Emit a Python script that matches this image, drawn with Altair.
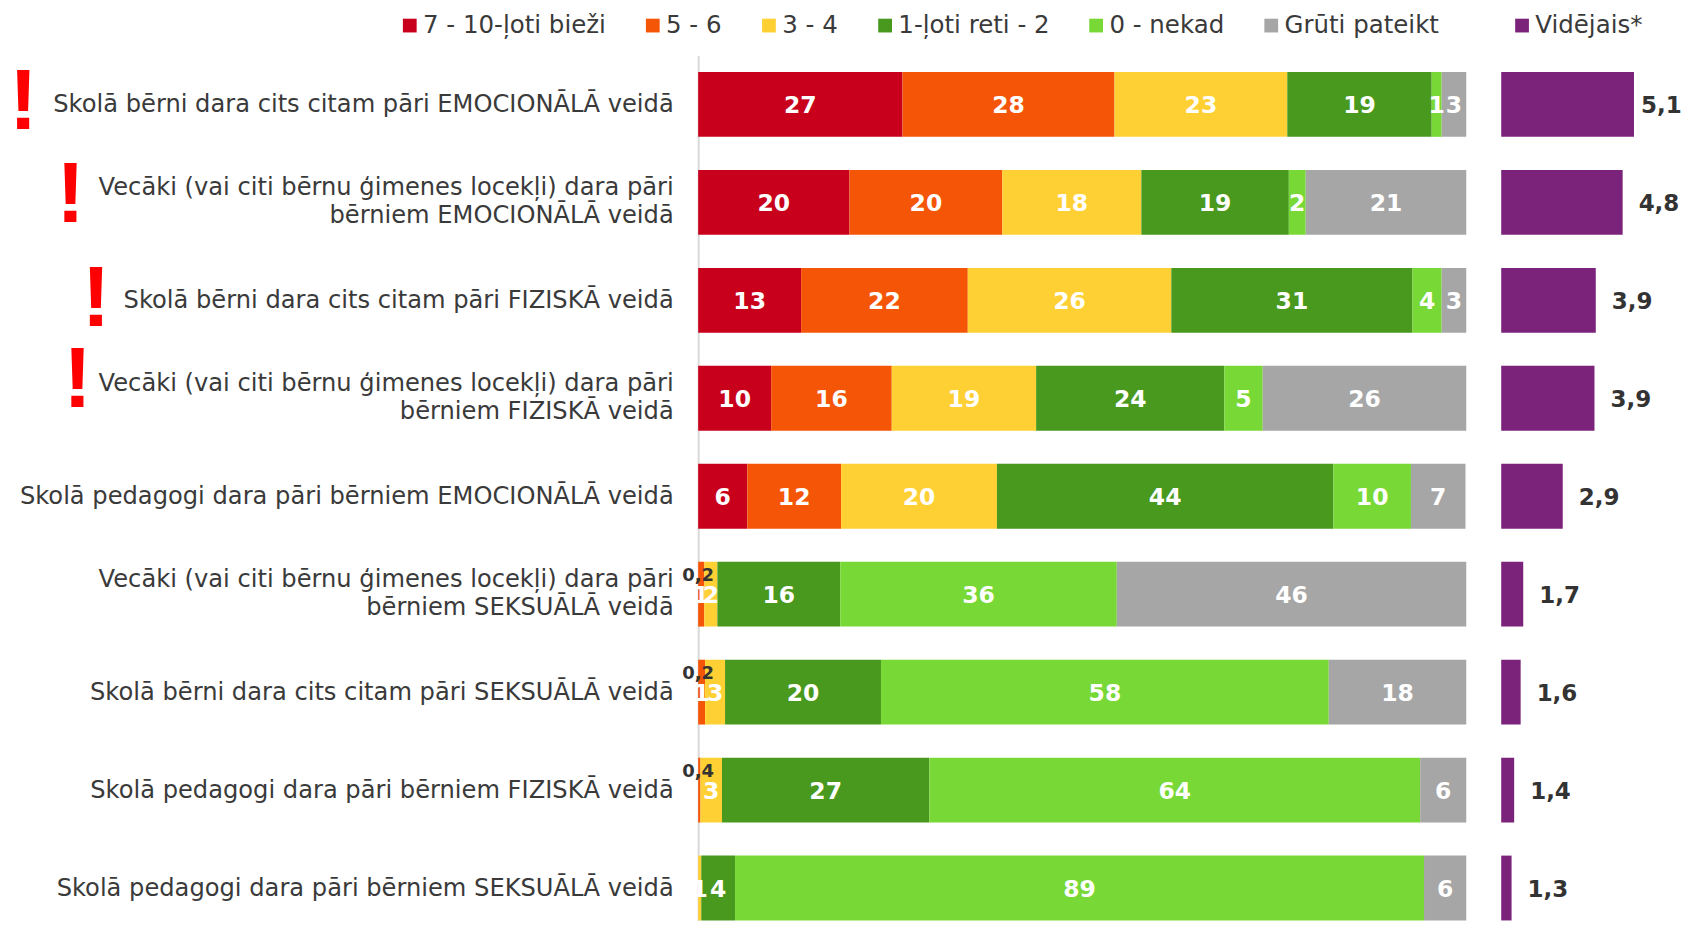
import altair as alt
import pandas as pd

rows = [
    "Skolā bērni dara cits citam pāri EMOCIONĀLĀ veidā",
    "Vecāki (vai citi bērnu ģimenes locekļi) dara pāri|bērniem EMOCIONĀLĀ veidā",
    "Skolā bērni dara cits citam pāri FIZISKĀ veidā",
    "Vecāki (vai citi bērnu ģimenes locekļi) dara pāri|bērniem FIZISKĀ veidā",
    "Skolā pedagogi dara pāri bērniem EMOCIONĀLĀ veidā",
    "Vecāki (vai citi bērnu ģimenes locekļi) dara pāri|bērniem SEKSUĀLĀ veidā",
    "Skolā bērni dara cits citam pāri SEKSUĀLĀ veidā",
    "Skolā pedagogi dara pāri bērniem FIZISKĀ veidā",
    "Skolā pedagogi dara pāri bērniem SEKSUĀLĀ veidā",
]
series = ["7 - 10-ļoti bieži", "5 - 6", "3 - 4", "1-ļoti reti - 2", "0 - nekad", "Grūti pateikt"]
colors = ["#C8001C", "#F55506", "#FFD033", "#48991D", "#78D936", "#A6A6A6"]
values = [
    [26.6, 27.6, 22.5, 18.8, 1.3, 3.2],
    [19.7, 19.9, 18.1, 19.2, 2.2, 20.9],
    [13.4, 21.7, 26.5, 31.4, 3.8, 3.2],
    [9.5, 15.7, 18.8, 24.5, 5.0, 26.5],
    [6.4, 12.2, 20.3, 43.8, 10.1, 7.1],
    [0.0, 0.8, 1.7, 16.0, 36.0, 45.5],
    [0.0, 0.9, 2.6, 20.3, 58.3, 17.9],
    [0.0, 0.3, 2.8, 27.0, 63.9, 6.0],
    [0.0, 0.0, 0.4, 4.4, 89.7, 5.5],
]
labels = [
    ["27", "28", "23", "19", "1", "3"],
    ["20", "20", "18", "19", "2", "21"],
    ["13", "22", "26", "31", "4", "3"],
    ["10", "16", "19", "24", "5", "26"],
    ["6", "12", "20", "44", "10", "7"],
    ["0,2", "1", "2", "16", "36", "46"],
    ["0,2", "1", "3", "20", "58", "18"],
    ["", "0,4", "3", "27", "64", "6"],
    ["", "", "1", "4", "89", "6"],
]
avg_bar = [5.1, 4.75, 3.92, 3.88, 2.9, 1.68, 1.6, 1.4, 1.32]
avg_text = ["5,1", "4,8", "3,9", "3,9", "2,9", "1,7", "1,6", "1,4", "1,3"]
avg_name = "Vidējais*"
avg_color = "#7B237B"
avg_axis_min = 1
excl_x = [-87.87, -81.7, -78.4, -80.8]
excl_dy = [-1, -6, 0, -17]

recs = []
for r, vals, labs in zip(rows, values, labels):
    cum = 0.0
    for s, v, lab in zip(series, vals, labs):
        recs.append(dict(row=r, s=s, x0=cum, x1=cum + v, mid=cum + v / 2, lab=lab,
                         small=lab.startswith("0,")))
        cum += v
df = pd.DataFrame(recs)

FONT = "DejaVu Sans"
TXT = "#3a3a3a"
PW, PH = 769, 866
y_scale = alt.Scale(domain=rows, paddingInner=0.338, paddingOuter=0.0841, align=1, round=False)
x_scale = alt.Scale(domain=[0, 100], nice=False, zero=False)

y_axis = alt.Axis(
    title=None, ticks=False, labelFontSize=24.2, labelFont=FONT, labelColor=TXT,
    labelPadding=25, labelLimit=800, labelLineHeight=28.5,
    labelOffset={"condition": {"test": "indexof(datum.value, '|') >= 0", "value": -14.5}, "value": 1},
    labelExpr="split(datum.label, '|')", domainColor="#D9D9D9", domainWidth=2,
    grid=False,
)

base = alt.Chart(df)
bars = base.transform_filter("datum.x1 > datum.x0").mark_bar(cornerRadius=0).encode(
    y=alt.Y("row:N", sort=rows, scale=y_scale, axis=y_axis),
    x=alt.X("x0:Q", scale=x_scale, axis=None),
    x2="x1:Q",
    color=alt.Color(
        "s:N",
        scale=alt.Scale(domain=series, range=colors),
        legend=alt.Legend(
            title=None, orient="none", legendX=-301, legendY=-42.2, direction="horizontal",
            columns=6, gridAlign="none", columnPadding=34.3, symbolType="square",
            symbolSize=190, symbolStrokeWidth=0, labelFontSize=24.5, labelFont=FONT,
            labelColor=TXT, labelLimit=400, labelOffset=1,
        ),
    ),
)
big = base.transform_filter("!datum.small && datum.lab != ''").mark_text(
    font=FONT, fontSize=23.5, fontWeight="bold", color="white", dy=2
).encode(
    y=alt.Y("row:N", sort=rows, scale=y_scale),
    x=alt.X("mid:Q", scale=x_scale),
    text="lab:N",
)
small = base.transform_filter("datum.small").mark_text(
    font=FONT, fontSize=18, fontWeight="bold", color="#333333", dy=-18
).encode(
    y=alt.Y("row:N", sort=rows, scale=y_scale),
    x=alt.value(0),
    text="lab:N",
)
layers = [bars, big, small]
for r, ex, dy in zip(rows, excl_x, excl_dy):
    layers.append(
        alt.Chart(pd.DataFrame({"row": [r], "xx": [ex], "t": ["!"]}))
        .mark_text(font="Liberation Sans", fontSize=86, fontWeight="bold", color="#FF0000", dy=dy)
        .encode(
            y=alt.Y("row:N", sort=rows, scale=y_scale),
            x=alt.X("xx:Q", scale=x_scale),
            text="t:N",
        )
    )
left = alt.layer(*layers).properties(width=PW, height=PH)

df2 = pd.DataFrame({"row": rows, "v": avg_bar, "v0": [avg_axis_min] * len(rows),
                    "t": avg_text, "s": [avg_name] * len(rows)})
b2 = alt.Chart(df2)
x2_scale = alt.Scale(domain=[1, 6.49], nice=False, zero=False)
y2 = alt.Y("row:N", sort=rows, scale=y_scale, axis=None)
txt_style = dict(font=FONT, fontSize=23, fontWeight="bold", color="#333333", align="left", dy=2)
txt_enc = dict(y=y2, x=alt.X("v:Q", scale=x2_scale), text="t:N")
right = alt.layer(
    b2.mark_bar().encode(
        y=y2,
        x=alt.X("v0:Q", scale=x2_scale, axis=None),
        x2="v:Q",
        color=alt.Color(
            "s:N",
            scale=alt.Scale(domain=[avg_name], range=[avg_color]),
            legend=alt.Legend(
                title=None, orient="none", legendX=8.6, legendY=-42.2, symbolType="square",
                symbolSize=190, symbolStrokeWidth=0, labelFontSize=24.5, labelFont=FONT,
                labelColor=TXT, labelLimit=300, labelOffset=1,
            ),
        ),
    ),
    b2.transform_filter("datum.v < 5").mark_text(dx=16, **txt_style).encode(**txt_enc),
    b2.transform_filter("datum.v >= 5").mark_text(dx=7, **txt_style).encode(**txt_enc),
).properties(width=178, height=PH)

chart = (
    alt.hconcat(left, right, spacing=35)
    .resolve_scale(color="independent", x="independent")
    .properties(padding={"left": 0, "top": 4, "right": 0, "bottom": 0}, background="white")
    .configure_view(stroke=None)
)
chart.save("out.html", embed_options={"renderer": "svg", "actions": False})
